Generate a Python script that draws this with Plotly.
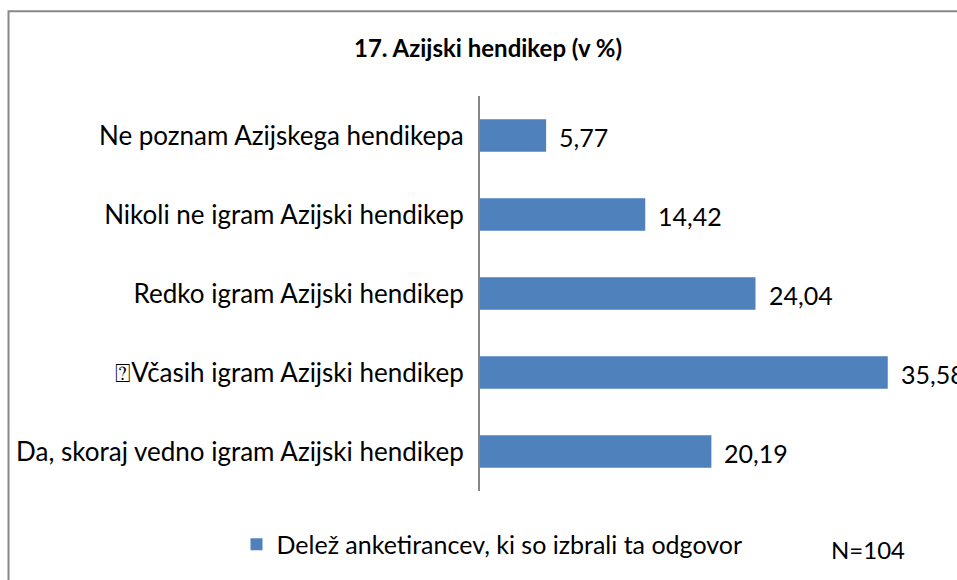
import plotly.graph_objects as go

categories = [
    "Da, skoraj vedno igram Azijski hendikep",
    "\u2370Včasih igram Azijski hendikep",
    "Redko igram Azijski hendikep",
    "Nikoli ne igram Azijski hendikep",
    "Ne poznam Azijskega hendikepa",
]
values = [20.19, 35.58, 24.04, 14.42, 5.77]
value_labels = ["20,19", "35,58", "24,04", "14,42", "5,77"]
series_name = "Delež anketirancev, ki so izbrali ta odgovor"
title_text = "17. Azijski hendikep (v %)"
note_text = "N=104"

FONT = "Lato"
FS = 25
W, H = 957, 580
L, R, T, B = 480, 19, 96, 85
pw = W - L - R
ph = H - T - B

def px_x(px):
    return (px - L) / pw

def px_y(py):
    return (H - B - py) / ph

fig = go.Figure()
fig.add_trace(go.Bar(
    y=categories, x=values, orientation="h",
    marker=dict(color="#4F81BD", line=dict(width=0)),
    name=series_name, showlegend=True, hoverinfo="skip",
))
for c, v, t in zip(categories, values, value_labels):
    fig.add_annotation(x=v, y=c, xref="x", yref="y", text=t, showarrow=False,
                       xanchor="left", xshift=11, yshift=-1,
                       font=dict(family=FONT, size=FS, color="#000000"))

fig.add_annotation(x=px_x(488), y=px_y(47), xref="paper", yref="paper", text="<b>" + title_text + "</b>",
                   showarrow=False, xanchor="center", yanchor="middle",
                   font=dict(family=FONT, size=24, color="#000000"))
fig.add_annotation(x=px_x(868), y=px_y(554), xref="paper", yref="paper", text=note_text,
                   showarrow=False, xanchor="center", yanchor="middle",
                   font=dict(family=FONT, size=24, color="#000000"))

fig.add_shape(type="rect", xref="paper", yref="paper",
              x0=px_x(8.5), x1=px_x(970), y0=px_y(10.5), y1=px_y(600),
              line=dict(color="#888888", width=2), fillcolor="rgba(0,0,0,0)", layer="below")

fig.update_layout(
    width=W, height=H,
    margin=dict(l=L, r=R, t=T, b=B, pad=0),
    paper_bgcolor="white", plot_bgcolor="white",
    bargap=0.59,
    font=dict(family=FONT, size=FS, color="#000000"),
    showlegend=True,
    legend=dict(orientation="h", x=px_x(492), y=px_y(549), xanchor="center", yanchor="middle",
                font=dict(family=FONT, size=FS, color="#000000"), itemwidth=30,
                bgcolor="rgba(0,0,0,0)"),
    xaxis=dict(range=[0, pw / 11.46], showgrid=False, zeroline=False, showticklabels=False,
               showline=False, ticks="", fixedrange=True),
    yaxis=dict(showline=True, linecolor="#868686", linewidth=2, ticks="", showgrid=False,
               ticklabelstandoff=9, tickfont=dict(family=FONT, size=26, color="#000000"),
               automargin=False, fixedrange=True),
)

fig.write_html("out.html", config={"displayModeBar": False},
               post_script="document.body.style.margin='0';document.body.style.overflow='hidden';")
